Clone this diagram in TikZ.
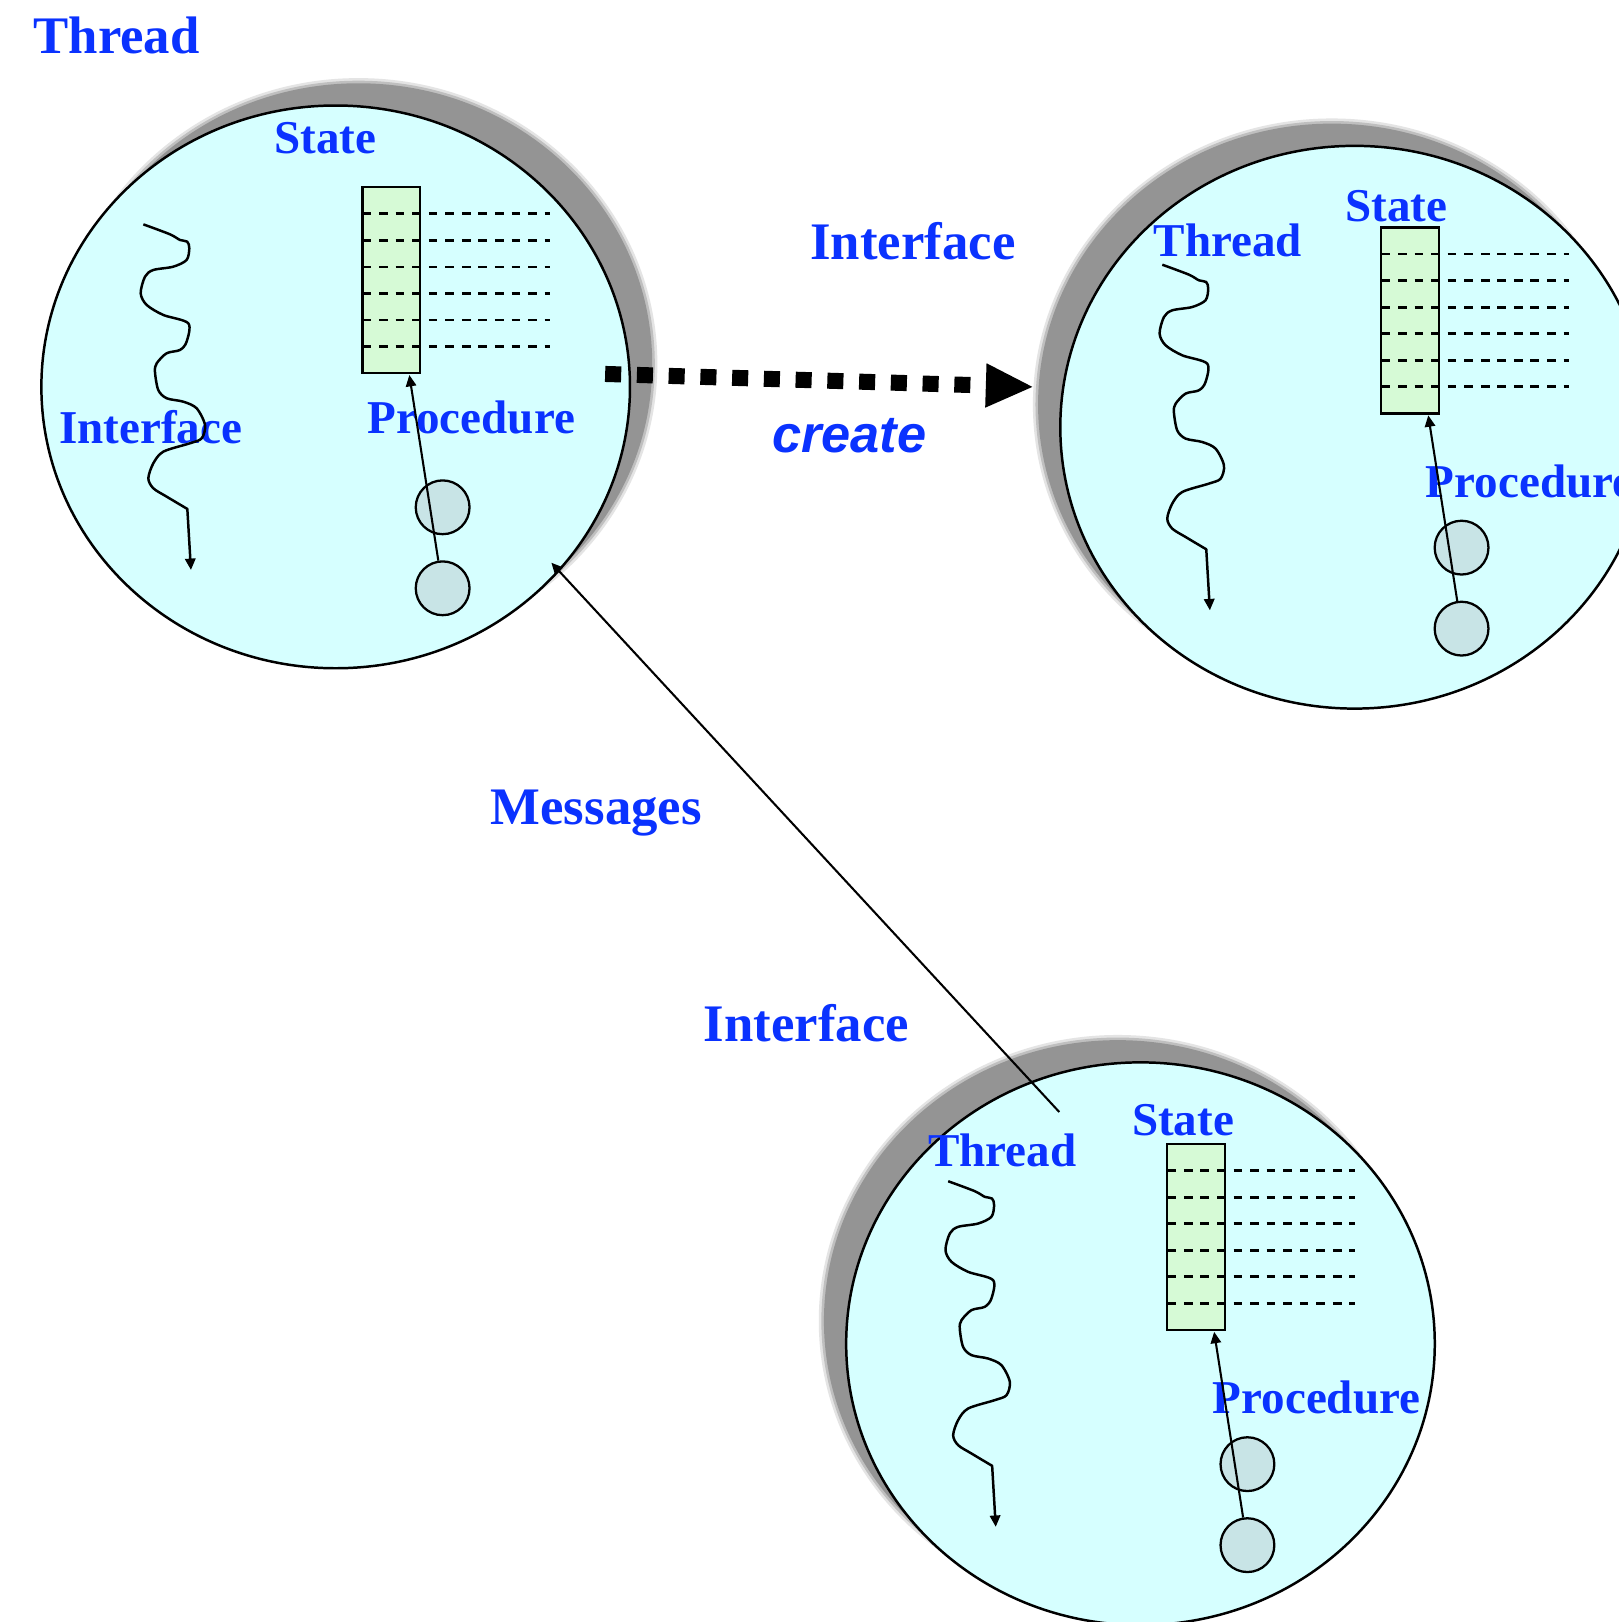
\documentclass[tikz,border=0pt]{standalone}
\usepackage{fontspec}
\setmainfont{Liberation Serif}
\newfontfamily\arialfont{Liberation Sans}
\usetikzlibrary{shapes.geometric,arrows.meta}
\definecolor{lblue}{RGB}{10,50,255}
\definecolor{cellfill}{RGB}{214,255,255}
\definecolor{statefill}{RGB}{214,250,214}
\definecolor{procfill}{RGB}{200,228,230}
\definecolor{shadowgray}{RGB}{148,148,148}
\tikzset{
  outer label/.style={font=\fontsize{25.5pt}{30pt}\selectfont\bfseries, text=lblue, inner sep=0pt, anchor=base west},
  inner label/.style={font=\fontsize{22.75pt}{27pt}\selectfont\bfseries, text=lblue, inner sep=0pt, anchor=base west},
  cell/.style={ellipse, draw, line width=1.2pt, fill=cellfill, minimum width=284.5pt, minimum height=272pt, inner sep=0pt},
  statebox/.style={rectangle, draw, line width=1.1pt, fill=statefill, minimum width=27.85pt, minimum height=89.8pt, inner sep=0pt},
  procball/.style={circle, draw, line width=1.1pt, fill=procfill, minimum size=26pt, inner sep=0pt},
  slot/.style={dash pattern=on 4.2pt off 3.8pt, line width=1.3pt},
  thin arrow/.style={line width=1pt, -{Triangle[length=5.5pt,width=5pt]}},
  thread line/.style={line width=1.2pt, line join=round, -{Triangle[length=5.5pt,width=5pt]}},
}
% #1 prefix, #2 dx, #3 dy, #4 shadow centre x
\newcommand\objbase[4]{%
  \begin{scope}[shift={(#2,#3)}]
    \fill[shadowgray!25] (#4,352) ellipse [x radius=289, y radius=276.5];
    \fill[shadowgray!60] (#4,352) ellipse [x radius=286.5, y radius=274];
    \fill[shadowgray] (#4,352) ellipse [x radius=284, y radius=271.5];
    \node[cell] (#1-cell) at (324.5,374) {};
    \node[statebox] (#1-state) at (378.2,270.8) {};
    \node[procball] (#1-top) at (427.9,490.4) {};
    \node[procball] (#1-bot) at (427.9,568.7) {};
  \end{scope}}
\newcommand\objlines[3]{%
  \begin{scope}[shift={(#2,#3)}]
    \foreach \k in {1,...,6} \draw[slot] (350.5,{181+\k*25.66}) -- (532,{181+\k*25.66});
    \coordinate (#1-tip) at (395.7,362.5);
    \draw[thin arrow] (#1-bot) -- (#1-tip);
    \coordinate (#1-tend) at (184.6,551);
    \draw[thread line] plot[smooth, tension=0.5] coordinates {
      (138.6,216.9) (164.3,226.5) (174,232) (181,233.6) (183,240) (180.4,251.3)
      (167.5,257.8) (148.2,261) (140.2,267.4) (136,283.5) (141.8,294.8)
      (157.9,304.5) (182,312.5) (180.4,330.3) (174,338.3) (161.1,341.5)
      (151.5,351.2) (149.8,359.3) (153,377) (161.1,385) (177.2,388.3)
      (190.1,394.7) (198.2,410.8) (195,423.7) (183.7,428.5) (157.9,436.6)
      (148.2,447.9) (143.4,462.4) (148.2,472) (161.1,480.1) (181.1,492)}
      -- (#1-tend);
  \end{scope}}
\begin{document}
\begin{tikzpicture}[x=0.5pt,y=-0.5pt]
  \useasboundingbox (0,0) rectangle (1565,1568);
  \fill[white] (0,0) rectangle (1565,1568);
  \clip (0,0) rectangle (1565,1568);
  % bodies
  \objbase{a}{0}{0}{346.5}
  \objbase{b}{985}{39}{302.5}
  \objbase{c}{778}{925}{302.5}
  % labels
  \node[outer label] (thread-tl) at (32,51.6) {Thread};
  \node[inner label] (a-statelbl) at (265,148) {State};
  \node[inner label] (a-iflbl) at (57,429) {Interface};
  \node[inner label] (a-proclbl) at (355,419) {Procedure};
  \node[outer label] (b-iflbl) at (783,251) {Interface};
  \node[inner label] (b-statelbl) at (1300,214) {State};
  \node[inner label] (b-threadlbl) at (1115,248) {Thread};
  \node[inner label] (b-proclbl) at (1378,481) {Procedure};
  \node[outer label] (msglbl) at (474,797) {Messages};
  \node[outer label] (c-iflbl) at (680,1007) {Interface};
  \node[inner label] (c-statelbl) at (1094,1098) {State};
  \node[inner label] (c-threadlbl) at (897,1128) {Thread};
  \node[inner label] (c-proclbl) at (1172,1366) {Procedure};
  \node[font=\fontsize{25.3pt}{30pt}\selectfont\arialfont\bfseries\itshape, text=lblue, inner sep=0pt, anchor=base west] (createlbl) at (746,437) {create};
  % lines
  \objlines{a}{0}{0}
  \objlines{b}{985}{39}
  \objlines{c}{778}{925}
  % create arrow
  \coordinate (create-start) at (585,361.5);
  \coordinate (create-end) at (998,374);
  \draw[line width=7.75pt, dash pattern=on 7.75pt off 7.6pt,
        -{Triangle[length=22.5pt,width=21.5pt,line width=0pt]}] (create-start) -- (create-end);
  % messages arrow
  \coordinate (msg-start) at (1024,1075);
  \coordinate (msg-end) at (533,544);
  \draw[thin arrow] (msg-start) -- (msg-end);
\end{tikzpicture}
\end{document}
